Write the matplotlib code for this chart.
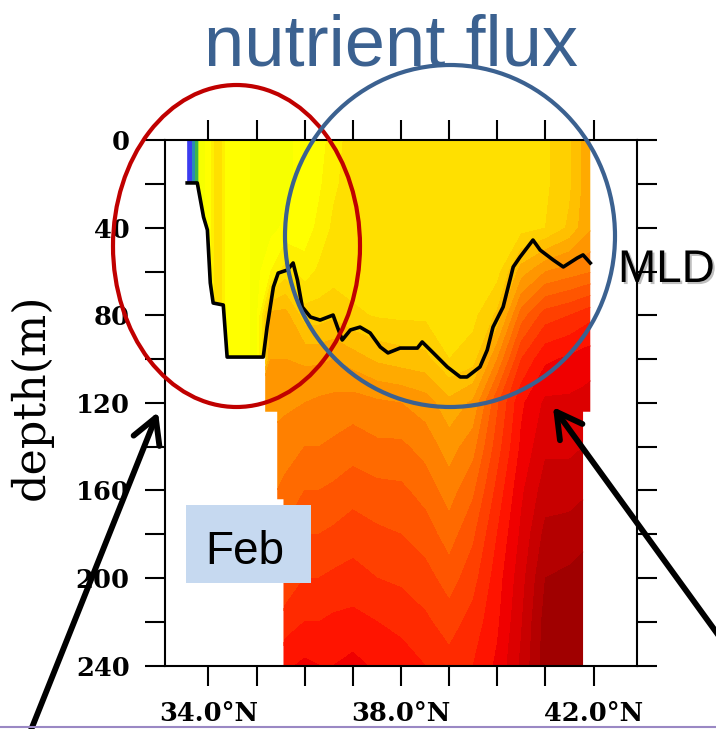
import numpy as np
import matplotlib
matplotlib.use('Agg')
import matplotlib.pyplot as plt
from matplotlib.colors import ListedColormap, BoundaryNorm
from matplotlib.patches import Polygon, Ellipse, Rectangle, FancyArrowPatch
from matplotlib.lines import Line2D
import matplotlib.patheffects as pe

########## section data ########################################################

lats = [33.5, 33.65, 33.75, 33.85, 34.0, 34.2, 34.4, 34.75, 35.0, 35.3, 35.6,
        36.0, 36.3, 36.6, 37.0, 37.5, 38.0, 38.5, 39.0, 39.5, 40.0, 40.5,
        41.0, 41.5, 41.8, 42.0]
depths = [0, 20, 40, 60, 80, 100, 120, 140, 160, 180, 200, 220, 240]

# flux class (one row per depth); the integer part is the colour band
flux = [
    [0.3, 0.8, 2.5, 4.5, 5.3, 7.8, 5.3, 5.3, 4.6, 4.6, 4.8, 5.3, 5.5, 6.5, 7.5, 7.5, 7.5, 7.5, 7.5, 7.5, 7.5, 7.5, 7.8, 8.8, 10.2, 10.8],
    [0.3, 0.8, 2.5, 4.5, 5.3, 7.8, 5.3, 5.3, 4.6, 4.6, 4.8, 5.3, 5.8, 6.8, 7.5, 7.5, 7.5, 7.5, 7.5, 7.5, 7.5, 7.5, 7.8, 8.8, 10.2, 10.8],
    [0.3, 0.8, 2.5, 4.5, 5.3, 7.8, 5.3, 5.3, 4.6, 4.7, 5.2, 5.4, 6.3, 7.2, 7.5, 7.5, 7.5, 7.5, 7.5, 7.5, 7.5, 7.6, 8.0, 9.2, 10.5, 11.0],
    [0.3, 0.8, 2.5, 4.5, 5.3, 7.8, 5.3, 5.3, 4.6, 6.0, 7.5, 6.5, 7.2, 7.5, 7.5, 7.5, 7.5, 7.5, 7.5, 7.5, 7.6, 10.5, 12.0, 12.5, 12.8, 13.0],
    [0.3, 0.8, 2.5, 4.5, 5.3, 7.8, 5.3, 5.3, 4.6, 10.4, 10.4, 8.5, 8.5, 8.8, 8.2, 7.9, 7.8, 7.8, 7.6, 7.7, 9.2, 13.5, 15.5, 16.0, 16.5, 16.8],
    [0.3, 0.8, 2.5, 4.5, 5.3, 7.8, 5.3, 5.3, 4.6, 11.0, 11.0, 10.8, 10.8, 11.0, 10.5, 9.8, 9.5, 9.3, 8.0, 8.5, 12.0, 16.0, 17.8, 18.2, 18.5, 18.6],
    [0.3, 0.8, 2.5, 4.5, 5.3, 7.8, 5.3, 5.3, 11.5, 11.6, 11.8, 12.0, 12.2, 12.3, 12.5, 12.2, 12.0, 11.5, 10.3, 11.2, 14.8, 17.8, 19.2, 19.2, 19.3, 19.5],
    [0.3, 0.8, 2.5, 4.5, 5.3, 7.8, 5.3, 5.3, 12.0, 12.3, 12.5, 13.0, 13.0, 13.2, 13.5, 13.2, 13.2, 12.6, 11.5, 12.6, 15.5, 18.2, 19.8, 19.8, 20.0, 20.0],
    [0.3, 0.8, 2.5, 4.5, 5.3, 7.8, 5.3, 5.3, 12.5, 12.8, 13.3, 14.0, 14.0, 14.2, 14.6, 14.3, 14.2, 13.6, 12.5, 13.8, 16.3, 18.8, 20.5, 20.5, 20.8, 20.8],
    [0.3, 0.8, 2.5, 4.5, 5.3, 7.8, 5.3, 5.3, 13.0, 13.5, 14.2, 15.0, 15.0, 15.2, 15.5, 15.2, 15.0, 14.5, 13.5, 14.8, 17.0, 19.2, 21.3, 21.5, 21.8, 21.8],
    [0.3, 0.8, 2.5, 4.5, 5.3, 7.8, 5.3, 5.3, 14.0, 14.5, 15.2, 16.0, 16.0, 16.2, 16.4, 16.0, 15.8, 15.4, 14.5, 15.6, 17.5, 19.6, 22.0, 22.2, 22.3, 22.3],
    [0.3, 0.8, 2.5, 4.5, 5.3, 7.8, 5.3, 5.3, 15.0, 15.5, 16.5, 17.0, 17.0, 17.2, 17.3, 17.0, 16.7, 16.2, 15.5, 16.4, 17.8, 19.9, 22.4, 22.5, 22.5, 22.5],
    [0.3, 0.8, 2.5, 4.5, 5.3, 7.8, 5.3, 5.3, 16.0, 16.5, 17.8, 18.2, 18.0, 18.0, 18.3, 17.8, 17.5, 17.0, 16.4, 17.0, 18.2, 20.2, 22.5, 22.5, 22.5, 22.5],
]

# mixed layer depth along the section
mld_lat = [33.56, 33.77, 33.90, 33.98, 34.04, 34.10, 34.31, 34.39, 35.14, 35.22,
           35.35, 35.45, 35.64, 35.76, 35.85, 35.95, 36.12, 36.32, 36.59, 36.68,
           36.78, 36.95, 37.15, 37.36, 37.57, 37.73, 37.98, 38.34, 38.44, 38.67,
           38.96, 39.23, 39.37, 39.64, 39.79, 39.91, 40.12, 40.33, 40.47, 40.74,
           40.89, 41.16, 41.37, 41.66, 41.78, 41.93]
mld_depth = [19.4, 19.4, 35.0, 40.9, 65.1, 74.3, 75.2, 99.0, 99.0, 85.3,
             67.0, 60.6, 59.2, 56.0, 63.8, 76.1, 80.7, 82.1, 79.8, 85.3,
             91.2, 86.6, 85.3, 88.0, 94.4, 97.1, 94.9, 94.9, 92.1, 97.1,
             103.5, 108.1, 108.1, 103.5, 95.8, 85.3, 76.1, 57.8, 53.3, 45.5,
             50.1, 54.6, 57.8, 53.7, 52.3, 56.0]

# bottom of the section south of 35.14N is the mld itself, then this outline
floor_lat = [35.18, 35.18, 35.43, 35.43, 35.56, 35.56, 41.78, 41.78, 41.93, 41.93]
floor_depth = [99, 124, 124, 164, 164, 240, 240, 124, 124, 0]

band_colors = ['#3c3cf0', '#2a8ab4', '#3cb44b', '#b4e61e', '#f7ff00', '#ffff00',
               '#fff000', '#ffe000', '#ffd000', '#ffc000', '#ffaa00', '#ff9600',
               '#ff8000', '#ff6a00', '#ff5500', '#ff4000', '#ff2a00', '#ff1400',
               '#f00000', '#dc0000', '#c80000', '#b40000', '#a00000']

W, H = 716, 729


def px(x, y):
    # image pixels (origin top left) -> figure fraction
    return (x / W, 1 - y / H)


########## risanje ############################################################

fig = plt.figure(figsize=(W / 100, H / 100), dpi=100)
ax = fig.add_axes([165 / W, (H - 665.5) / H, 472 / W, 525 / H])

cmap = ListedColormap(band_colors)
levels = np.arange(len(band_colors) + 1)
norm = BoundaryNorm(levels, cmap.N)
cs = ax.contourf(lats, depths, np.array(flux), levels=levels, cmap=cmap, norm=norm)

# keep only the water column
verts = [(mld_lat[0], 0)]
verts += [(la, d) for la, d in zip(mld_lat, mld_depth) if la <= 35.14]
verts += list(zip(floor_lat, floor_depth))
water = Polygon(verts, closed=True, transform=ax.transData, facecolor='none')
cs.set_clip_path(water)

ax.plot(mld_lat, mld_depth, color='black', lw=2.6)

ax.set_xlim(33.1, 42.9)
ax.set_ylim(240, 0)
ax.set_xticks([34, 38, 42])
ax.set_xticklabels(['34.0°N', '38.0°N', '42.0°N'])
ax.set_xticks([35, 36, 37, 39, 40, 41], minor=True)
ax.set_yticks(range(0, 241, 40))
ax.set_yticks(range(20, 241, 40), minor=True)
ax.tick_params(which='both', direction='out', length=14.4, width=1.5,
               top=True, right=True, pad=11)
for lab in ax.get_xticklabels() + ax.get_yticklabels():
    lab.set_family('DejaVu Serif')
    lab.set_weight('bold')
    lab.set_size(18.5)
for sp in ax.spines.values():
    sp.set_linewidth(1.5)

fig.text(*px(31, 397), 'depth(m)', rotation=90, ha='center', va='center',
         family='DejaVu Serif', fontsize=32)

# slide overlay
fig.text(*px(204, 65), 'nutrient flux', ha='left', va='baseline',
         family='Liberation Sans', fontsize=52, color='#3b6190')

fig.add_artist(Ellipse(px(236.5, 246), 247 / W, 322 / H, transform=fig.transFigure,
                       facecolor='none', edgecolor='#c00000', lw=3))
fig.add_artist(Ellipse(px(450, 236), 330 / W, 342 / H, transform=fig.transFigure,
                       facecolor='none', edgecolor='#3b6190', lw=3))

mld = fig.text(*px(618, 282), 'MLD', ha='left', va='baseline',
               family='Liberation Sans', fontsize=33, color='black')
mld.set_path_effects([pe.SimplePatchShadow(offset=(1.5, -1.5), alpha=0.25), pe.Normal()])

x0, y0 = px(186, 583)
fig.add_artist(Rectangle((x0, y0), 125 / W, 78 / H, transform=fig.transFigure,
                         facecolor='#c6d9f0', edgecolor='none'))
fig.text(*px(205, 564), 'Feb', ha='left', va='baseline',
         family='Liberation Sans', fontsize=33, color='black')

for tail, tip in [((25, 745), (158, 412)), ((740, 665), (553, 407))]:
    fig.add_artist(FancyArrowPatch(px(*tail), px(*tip), transform=fig.transFigure,
                                   arrowstyle='->,head_length=18,head_width=10',
                                   mutation_scale=1, lw=4.2, color='black',
                                   shrinkA=0, shrinkB=0, capstyle='round',
                                   joinstyle='round'))

fig.add_artist(Line2D([0, 1], [px(0, 727)[1]] * 2, transform=fig.transFigure,
                      color='#9a88c4', lw=1.5))

plt.savefig('out.png', dpi=100)
